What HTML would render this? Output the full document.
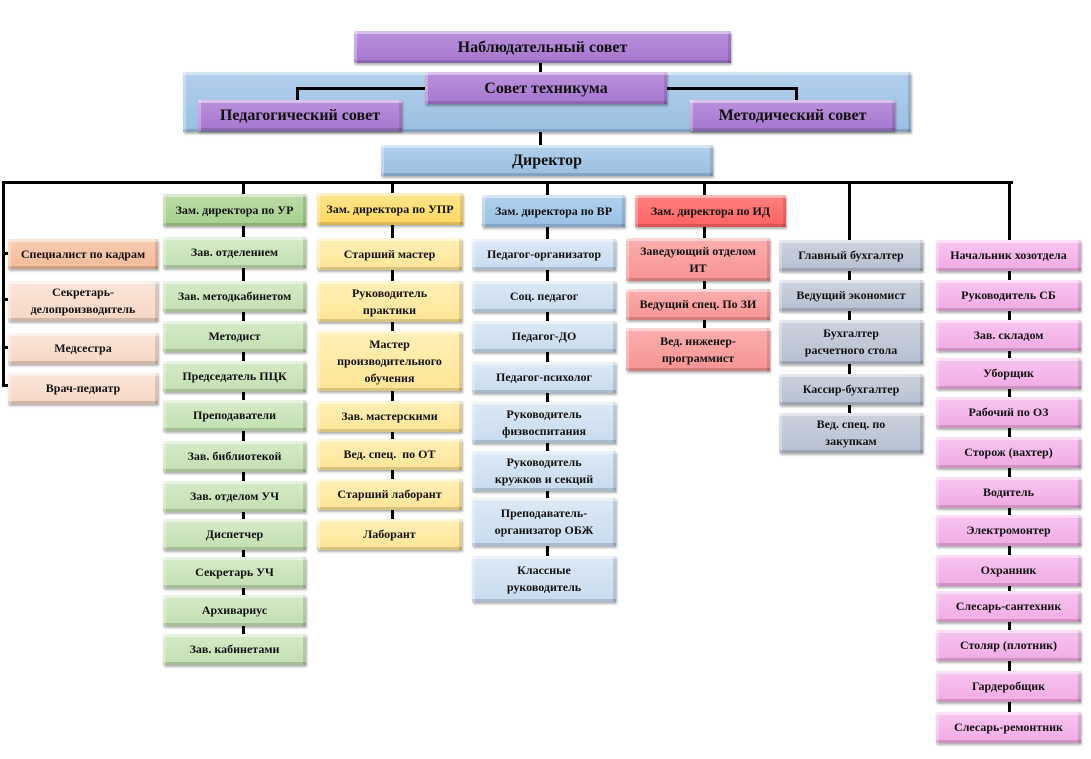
<!DOCTYPE html>
<html><head><meta charset="utf-8"><style>
body{margin:0;width:1091px;height:759px;background:#fff;position:relative;overflow:hidden;font-family:"Liberation Serif",serif;}
.b{position:absolute;display:flex;align-items:center;justify-content:center;text-align:center;font-weight:bold;font-size:12px;line-height:17px;color:#111;box-sizing:border-box;box-shadow:inset 0 3px 0 rgba(255,255,255,.45),inset 3px 0 0 rgba(255,255,255,.3),inset -3px 0 0 rgba(0,0,0,.12),inset 0 -3px 0 rgba(0,0,0,.15),1px 2px 2px rgba(0,0,0,.3);}
.l{position:absolute;background:#000;}
.pu{background:linear-gradient(#bb92dc,#a676cf);font-size:16px}
.bg{background:linear-gradient(#b2d0ec,#9bbfe1)}
.g1{background:linear-gradient(#bddca8,#a6cf8c)}.g2{background:linear-gradient(#d6ebc9,#c3dfb1)}
.y1{background:linear-gradient(#ffe58c,#ffd862)}.y2{background:linear-gradient(#fff0b8,#ffe495)}
.v1{background:linear-gradient(#b3d1ee,#9ac0e4)}.v2{background:linear-gradient(#dde9f5,#c8dbee)}
.r1{background:linear-gradient(#ff8080,#ff6262)}.r2{background:linear-gradient(#fbaeae,#f79494)}
.s{background:linear-gradient(#ccd3de,#b6c0cf)}
.p{background:linear-gradient(#f8c6f0,#f1aae4)}
.o1{background:linear-gradient(#f8cdb4,#f3ba98)}.o2{background:linear-gradient(#fbe6da,#f6d6c4)}
</style></head><body>
<div class="b bg" style="left:183px;top:72px;width:728px;height:60px;"></div>
<div class="l" style="left:539px;top:62px;width:3px;height:12px"></div>
<div class="l" style="left:539px;top:132px;width:3px;height:14px"></div>
<div class="l" style="left:296px;top:87px;width:130px;height:3px"></div>
<div class="l" style="left:296px;top:87px;width:3px;height:14px"></div>
<div class="l" style="left:666px;top:87px;width:132px;height:3px"></div>
<div class="l" style="left:795px;top:87px;width:3px;height:14px"></div>
<div class="b pu" style="left:354px;top:31px;width:377px;height:32px">Наблюдательный совет</div>
<div class="b pu" style="left:425px;top:72px;width:242px;height:32px">Совет техникума</div>
<div class="b pu" style="left:198px;top:100px;width:204px;height:31px">Педагогический совет</div>
<div class="b pu" style="left:690px;top:100px;width:205px;height:31px">Методический совет</div>
<div class="b bg" style="left:381px;top:145px;width:332px;height:31px;font-size:16px">Директор</div>

<div class="l" style="left:2px;top:181px;width:1011px;height:3px"></div>
<div class="l" style="left:2px;top:181px;width:3px;height:206px"></div>
<div class="l" style="left:2px;top:252px;width:8px;height:3px"></div>
<div class="l" style="left:2px;top:298px;width:8px;height:3px"></div>
<div class="l" style="left:2px;top:346px;width:8px;height:3px"></div>
<div class="l" style="left:2px;top:384px;width:8px;height:3px"></div>
<div class="l" style="left:242px;top:181px;width:3px;height:470px"></div>
<div class="l" style="left:391px;top:181px;width:3px;height:350px"></div>
<div class="l" style="left:546px;top:181px;width:3px;height:390px"></div>
<div class="l" style="left:703px;top:181px;width:3px;height:160px"></div>
<div class="l" style="left:848px;top:181px;width:3px;height:250px"></div>
<div class="l" style="left:1008px;top:181px;width:3px;height:540px"></div>

<div class="b o1" style="left:8px;top:239px;width:150px;height:30px">Специалист по кадрам</div>
<div class="b o2" style="left:8px;top:281px;width:150px;height:40px">Секретарь-<br>делопроизводитель</div>
<div class="b o2" style="left:8px;top:333px;width:150px;height:31px">Медсестра</div>
<div class="b o2" style="left:8px;top:373px;width:150px;height:31px">Врач-педиатр</div>

<div class="b g1" style="left:163px;top:194px;width:143px;height:32px">Зам. директора по УР</div>
<div class="b g2" style="left:163px;top:237px;width:143px;height:31px">Зав. отделением</div>
<div class="b g2" style="left:163px;top:281px;width:143px;height:31px">Зав. методкабинетом</div>
<div class="b g2" style="left:163px;top:321px;width:143px;height:31px">Методист</div>
<div class="b g2" style="left:163px;top:361px;width:143px;height:31px">Председатель ПЦК</div>
<div class="b g2" style="left:163px;top:400px;width:143px;height:31px">Преподаватели</div>
<div class="b g2" style="left:163px;top:441px;width:143px;height:31px">Зав. библиотекой</div>
<div class="b g2" style="left:163px;top:481px;width:143px;height:31px">Зав. отделом УЧ</div>
<div class="b g2" style="left:163px;top:519px;width:143px;height:31px">Диспетчер</div>
<div class="b g2" style="left:163px;top:557px;width:143px;height:31px">Секретарь УЧ</div>
<div class="b g2" style="left:163px;top:595px;width:143px;height:31px">Архивариус</div>
<div class="b g2" style="left:163px;top:634px;width:143px;height:31px">Зав. кабинетами</div>

<div class="b y1" style="left:317px;top:193px;width:146px;height:32px">Зам. директора по УПР</div>
<div class="b y2" style="left:317px;top:238px;width:145px;height:32px">Старший мастер</div>
<div class="b y2" style="left:317px;top:281px;width:145px;height:41px">Руководитель<br>практики</div>
<div class="b y2" style="left:317px;top:331px;width:145px;height:60px">Мастер<br>производительного<br>обучения</div>
<div class="b y2" style="left:317px;top:401px;width:145px;height:31px">Зав. мастерскими</div>
<div class="b y2" style="left:317px;top:439px;width:145px;height:31px">Вед. спец.&nbsp; по ОТ</div>
<div class="b y2" style="left:317px;top:479px;width:145px;height:31px">Старший лаборант</div>
<div class="b y2" style="left:317px;top:519px;width:145px;height:31px">Лаборант</div>

<div class="b v1" style="left:482px;top:195px;width:143px;height:32px">Зам. директора по ВР</div>
<div class="b v2" style="left:472px;top:239px;width:144px;height:31px">Педагог-организатор</div>
<div class="b v2" style="left:472px;top:281px;width:144px;height:31px">Соц. педагог</div>
<div class="b v2" style="left:472px;top:321px;width:144px;height:31px">Педагог-ДО</div>
<div class="b v2" style="left:472px;top:362px;width:144px;height:31px">Педагог-психолог</div>
<div class="b v2" style="left:472px;top:402px;width:144px;height:41px">Руководитель<br>физвоспитания</div>
<div class="b v2" style="left:472px;top:451px;width:144px;height:40px">Руководитель<br>кружков и секций</div>
<div class="b v2" style="left:472px;top:498px;width:144px;height:48px">Преподаватель-<br>организатор ОБЖ</div>
<div class="b v2" style="left:472px;top:556px;width:144px;height:46px">Классные<br>руководитель</div>

<div class="b r1" style="left:635px;top:195px;width:151px;height:32px">Зам. директора по ИД</div>
<div class="b r2" style="left:626px;top:238px;width:144px;height:43px">Заведующий отделом<br>ИТ</div>
<div class="b r2" style="left:626px;top:289px;width:144px;height:31px">Ведущий спец. По ЗИ</div>
<div class="b r2" style="left:626px;top:328px;width:144px;height:43px">Вед. инженер-<br>программист</div>

<div class="b s" style="left:779px;top:240px;width:144px;height:31px">Главный бухгалтер</div>
<div class="b s" style="left:779px;top:280px;width:144px;height:31px">Ведущий экономист</div>
<div class="b s" style="left:779px;top:320px;width:144px;height:44px">Бухгалтер<br>расчетного стола</div>
<div class="b s" style="left:779px;top:374px;width:144px;height:31px">Кассир-бухгалтер</div>
<div class="b s" style="left:779px;top:413px;width:144px;height:40px">Вед. спец. по<br>закупкам</div>

<div class="b p" style="left:936px;top:240px;width:145px;height:31px">Начальник хозотдела</div>
<div class="b p" style="left:936px;top:280px;width:145px;height:31px">Руководитель СБ</div>
<div class="b p" style="left:936px;top:320px;width:145px;height:31px">Зав. складом</div>
<div class="b p" style="left:936px;top:358px;width:145px;height:31px">Уборщик</div>
<div class="b p" style="left:936px;top:397px;width:145px;height:31px">Рабочий по ОЗ</div>
<div class="b p" style="left:936px;top:437px;width:145px;height:31px">Сторож (вахтер)</div>
<div class="b p" style="left:936px;top:477px;width:145px;height:31px">Водитель</div>
<div class="b p" style="left:936px;top:515px;width:145px;height:31px">Электромонтер</div>
<div class="b p" style="left:936px;top:555px;width:145px;height:31px">Охранник</div>
<div class="b p" style="left:936px;top:591px;width:145px;height:31px">Слесарь-сантехник</div>
<div class="b p" style="left:936px;top:630px;width:145px;height:31px">Столяр (плотник)</div>
<div class="b p" style="left:936px;top:671px;width:145px;height:31px">Гардеробщик</div>
<div class="b p" style="left:936px;top:712px;width:145px;height:31px">Слесарь-ремонтник</div>
</body></html>
